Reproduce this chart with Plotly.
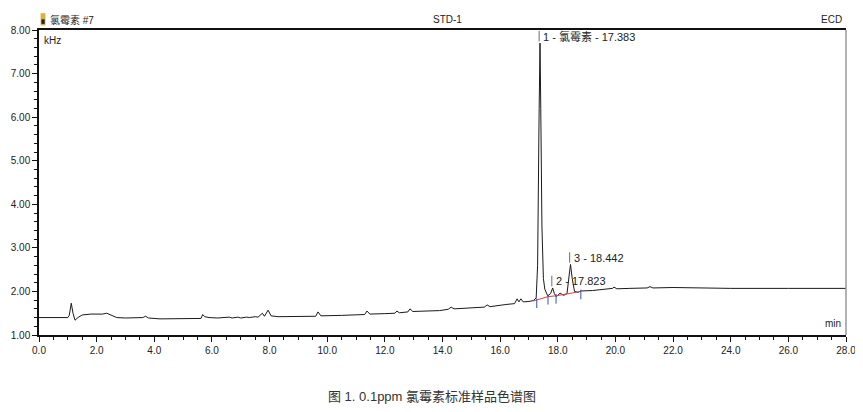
import plotly.graph_objects as go

# Chromatogram trace (time in min, signal in kHz)
times = [0.0, 0.5, 1.0, 1.05, 1.12, 1.18, 1.25, 1.35, 1.5, 1.8, 2.2, 2.35, 2.5, 2.7, 3.0, 3.4,
         3.6, 3.7, 3.8, 4.2, 5.0, 5.5, 5.62, 5.68, 5.75, 5.9, 6.2, 6.6, 6.7, 6.9, 7.0, 7.2,
         7.3, 7.5, 7.6, 7.75, 7.82, 7.95, 8.05, 8.3, 9.0, 9.6, 9.68, 9.78, 10.5, 11.3, 11.38,
         11.48, 12.0, 12.35, 12.42, 12.5, 12.8, 12.87, 12.97, 13.5, 13.78, 13.9, 14.2, 14.3,
         14.4, 15.0, 15.45, 15.55, 15.65, 16.2, 16.5, 16.59, 16.65, 16.72, 16.8, 17.0, 17.15,
         17.25, 17.30, 17.35, 17.383, 17.41, 17.45, 17.5, 17.55, 17.65, 17.75, 17.823, 17.88,
         17.95, 18.08, 18.2, 18.32, 18.40, 18.442, 18.50, 18.58, 18.7, 18.8, 19.2, 19.6, 19.9,
         19.95, 20.05, 20.5, 21.1, 21.2, 21.3, 22.0, 23.0, 24.0, 26.0, 28.0]
signal = [1.40, 1.40, 1.40, 1.45, 1.73, 1.50, 1.34, 1.40, 1.46, 1.48, 1.48, 1.50, 1.45, 1.40, 1.39, 1.39,
          1.40, 1.43, 1.39, 1.37, 1.37, 1.38, 1.38, 1.47, 1.42, 1.40, 1.39, 1.41, 1.39, 1.41, 1.39, 1.41,
          1.40, 1.42, 1.41, 1.50, 1.43, 1.57, 1.44, 1.42, 1.42, 1.43, 1.53, 1.44, 1.45, 1.47, 1.55,
          1.48, 1.49, 1.50, 1.55, 1.51, 1.53, 1.60, 1.54, 1.55, 1.57, 1.56, 1.59, 1.64,
          1.60, 1.62, 1.64, 1.69, 1.65, 1.70, 1.72, 1.83, 1.76, 1.83, 1.76, 1.77, 1.79,
          1.85, 2.6, 6.0, 7.70, 6.2, 3.5, 2.3, 2.05, 1.90, 1.95, 2.08, 1.95,
          1.88, 1.96, 1.91, 1.95, 2.4, 2.62, 2.3, 2.0, 1.98, 2.01, 2.02, 2.04, 2.07,
          2.10, 2.06, 2.07, 2.08, 2.11, 2.08, 2.09, 2.08, 2.07, 2.07, 2.07]

# Integration baseline (red) and peak boundary markers (blue)
baseline_t = [17.15, 17.66, 17.95, 18.8]
baseline_v = [1.78, 1.88, 1.90, 2.00]
boundary_t = [17.27, 17.66, 17.94, 18.80]
boundary_v = [1.80, 1.88, 1.90, 2.00]

# Peak labels
peak_t = [17.383, 17.823, 18.442]
peak_v = [7.70, 2.08, 2.62]
peak_labels = ["1 - 氯霉素 - 17.383", "2 - 17.823", "3 - 18.442"]

x_ticks = [0, 2, 4, 6, 8, 10, 12, 14, 16, 18, 20, 22, 24, 26, 28]
y_ticks = [1, 2, 3, 4, 5, 6, 7, 8]

FONT = "Liberation Sans, Arial, sans-serif"
CJK = "Liberation Sans, Noto Sans CJK SC, sans-serif"

fig = go.Figure()
fig.add_trace(go.Scatter(x=times, y=signal, mode="lines",
                         line=dict(color="#1a1a1a", width=1), hoverinfo="skip"))
fig.add_trace(go.Scatter(x=baseline_t, y=baseline_v, mode="lines",
                         line=dict(color="#e04040", width=1), hoverinfo="skip"))

bx, by = [], []
for t, v in zip(boundary_t, boundary_v):
    bx += [t, t, None]
    by += [v - 0.18, v + 0.04, None]
fig.add_trace(go.Scatter(x=bx, y=by, mode="lines",
                         line=dict(color="#3050c0", width=1), hoverinfo="skip"))

lx, ly = [], []
for t, v in zip(peak_t, peak_v):
    lx += [t - 0.03, t - 0.03, None]
    ly += [v + 0.04, v + 0.28, None]
fig.add_trace(go.Scatter(x=lx, y=ly, mode="lines",
                         line=dict(color="#404060", width=0.8), hoverinfo="skip"))

for t, v, txt in zip(peak_t, peak_v, peak_labels):
    fig.add_annotation(x=t + 0.04, y=v + 0.15, text=txt, showarrow=False,
                       xanchor="left", yanchor="middle",
                       font=dict(family=CJK, size=11, color="#222"))

fig.update_layout(
    width=863, height=412,
    margin=dict(l=31, r=25, t=22, b=85),
    paper_bgcolor="white", plot_bgcolor="white",
    showlegend=False,
    font=dict(family=FONT, size=10, color="#222"),
    xaxis=dict(range=[0, 28], tickvals=x_ticks, tickformat=".1f", automargin=False,
               showgrid=False, zeroline=False, showline=True, linecolor="#111",
               linewidth=1.5, mirror=True, ticks="outside", ticklen=5, tickcolor="#111",
               minor=dict(dtick=0.5, ticks="outside", ticklen=3, tickcolor="#111"),
               tickfont=dict(family=FONT, size=10, color="#222")),
    yaxis=dict(range=[1, 8], tickvals=y_ticks, tickformat=".2f", automargin=False,
               showgrid=False, zeroline=False, showline=True, linecolor="#111",
               linewidth=1.5, ticks="outside", ticklen=5, tickcolor="#111",
               minor=dict(dtick=0.2, ticks="outside", ticklen=3, tickcolor="#111"),
               tickfont=dict(family=FONT, size=10, color="#222")),
)

# right gray border
fig.add_shape(type="line", xref="paper", yref="paper", x0=1, x1=1, y0=0, y1=1,
              line=dict(color="#999", width=1.5))

# small icon before the header text
fig.add_shape(type="rect", xref="paper", yref="paper", x0=0.002, x1=0.008,
              y0=1.015, y1=1.055, fillcolor="#d8b040", line=dict(width=0))
fig.add_shape(type="rect", xref="paper", yref="paper", x0=0.003, x1=0.007,
              y0=1.02, y1=1.035, fillcolor="#222", line=dict(width=0))

fig.add_annotation(xref="paper", yref="paper", x=0.011, y=1.033, text="氯霉素 #7",
                   showarrow=False, xanchor="left", yanchor="middle",
                   font=dict(family=CJK, size=10, color="#222"))
fig.add_annotation(xref="paper", yref="paper", x=0.5056, y=1.033, text="STD-1",
                   showarrow=False, xanchor="center", yanchor="middle",
                   font=dict(family=FONT, size=10, color="#222"))
fig.add_annotation(xref="paper", yref="paper", x=0.998, y=1.033, text="ECD",
                   showarrow=False, xanchor="right", yanchor="middle",
                   font=dict(family=FONT, size=10, color="#222"))
fig.add_annotation(xref="paper", yref="paper", x=0.004, y=0.964, text="kHz",
                   showarrow=False, xanchor="left", yanchor="middle",
                   font=dict(family=FONT, size=10, color="#222"))
fig.add_annotation(xref="paper", yref="paper", x=0.9965, y=0.039, text="min",
                   showarrow=False, xanchor="right", yanchor="middle",
                   font=dict(family=FONT, size=10, color="#222"))
fig.add_annotation(xref="paper", yref="paper", x=0.487, y=-0.203,
                   text="图 1. 0.1ppm 氯霉素标准样品色谱图",
                   showarrow=False, xanchor="center", yanchor="middle",
                   font=dict(family=CJK, size=13, color="#333"))

fig.write_html("out.html")
